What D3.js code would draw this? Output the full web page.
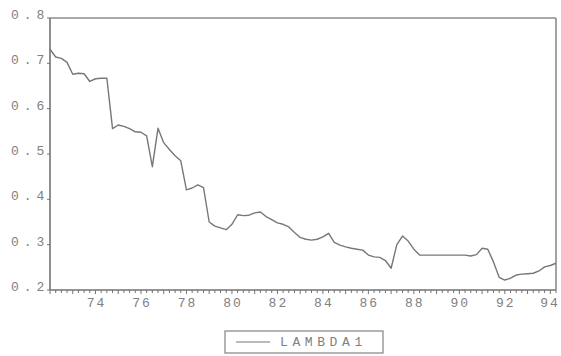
<!DOCTYPE html>
<html>
<head>
<meta charset="utf-8">
<script src="https://cdn.jsdelivr.net/npm/d3@7"></script>
<style>
  body { margin: 0; background: #fff; }
  svg text { font-family: "Liberation Mono", "DejaVu Sans Mono", monospace; fill: #808080; }
</style>
</head>
<body>
<div id="chart"></div>
<script>
// quarterly observations, 1972Q1 .. 1994Q2
const startYear = 1972;
const obsPerYear = 4;
const lambda1 = [
    0.731, 0.714, 0.711, 0.702,   // 1972
    0.676, 0.678, 0.677, 0.660,   // 1973
    0.666, 0.667, 0.667, 0.556,   // 1974
    0.564, 0.561, 0.556, 0.549,   // 1975
    0.548, 0.540, 0.472, 0.557,   // 1976
    0.525, 0.510, 0.496, 0.485,   // 1977
    0.421, 0.425, 0.432, 0.426,   // 1978
    0.350, 0.341, 0.337, 0.333,   // 1979
    0.345, 0.366, 0.364, 0.365,   // 1980
    0.370, 0.372, 0.362, 0.355,   // 1981
    0.348, 0.345, 0.339, 0.327,   // 1982
    0.316, 0.312, 0.310, 0.312,   // 1983
    0.317, 0.325, 0.305, 0.299,   // 1984
    0.295, 0.292, 0.290, 0.288,   // 1985
    0.277, 0.273, 0.272, 0.265,   // 1986
    0.248, 0.300, 0.319, 0.308,   // 1987
    0.290, 0.277, 0.277, 0.277,   // 1988
    0.277, 0.277, 0.277, 0.277,   // 1989
    0.277, 0.277, 0.275, 0.278,   // 1990
    0.292, 0.290, 0.262, 0.228,   // 1991
    0.222, 0.226, 0.233, 0.235,   // 1992
    0.236, 0.237, 0.242, 0.251,   // 1993
    0.254, 0.259                  // 1994
];
const yTicks = [0.2, 0.3, 0.4, 0.5, 0.6, 0.7, 0.8];
const xTickYears = [74, 76, 78, 80, 82, 84, 86, 88, 90, 92, 94];
const seriesName = "LAMBDA1";

const width = 561;
const height = 356;
const margins = { top: 18, left: 50, right: 5, bottom: 66 };

const svg = d3.select("#chart")
    .append("svg")
        .attr("width", width)
        .attr("height", height);

const lastT = startYear + (lambda1.length - 1) / obsPerYear;

const x = d3.scaleLinear()
    .domain([startYear, lastT])
    .range([margins.left, width - margins.right]);

const y = d3.scaleLinear()
    .domain([0.2, 0.8])
    .range([height - margins.bottom, margins.top]);

const frameColor = "#737373";

// frame: top + right lighter, left + bottom axis lines
svg.append("line")
    .attr("x1", x(startYear)).attr("x2", x(lastT))
    .attr("y1", y(0.8)).attr("y2", y(0.8))
    .attr("stroke", "#8c8c8c").attr("stroke-width", 1.6);
svg.append("line")
    .attr("x1", x(lastT)).attr("x2", x(lastT))
    .attr("y1", y(0.8)).attr("y2", y(0.2))
    .attr("stroke", "#8c8c8c").attr("stroke-width", 1.6);
svg.append("line")
    .attr("x1", x(startYear)).attr("x2", x(startYear))
    .attr("y1", y(0.8)).attr("y2", y(0.2))
    .attr("stroke", frameColor).attr("stroke-width", 1.6);
svg.append("line")
    .attr("x1", x(startYear)).attr("x2", x(lastT))
    .attr("y1", y(0.2)).attr("y2", y(0.2))
    .attr("stroke", frameColor).attr("stroke-width", 1.6);

// quarterly minor ticks under the x axis
const quarterTicks = d3.range(lambda1.length).map(i => startYear + i / obsPerYear);
svg.append("g")
    .selectAll("line")
    .data(quarterTicks)
    .join("line")
        .attr("x1", d => x(d)).attr("x2", d => x(d))
        .attr("y1", y(0.2))
        .attr("y2", d => y(0.2) + (Number.isInteger(d) ? 4 : 3))
        .attr("stroke", frameColor)
        .attr("stroke-width", 1);

// x labels (last one kept inside the window)
svg.append("g")
    .selectAll("text")
    .data(xTickYears)
    .join("text")
        .attr("x", d => Math.min(x(1900 + d) + 1, width - 11))
        .attr("y", y(0.2) + 17)
        .attr("text-anchor", "middle")
        .attr("font-size", 13)
        .attr("letter-spacing", 2)
        .text(d => d);

// y ticks + labels
svg.append("g")
    .selectAll("line")
    .data(yTicks)
    .join("line")
        .attr("x1", x(startYear) - 3).attr("x2", x(startYear))
        .attr("y1", d => y(d)).attr("y2", d => y(d))
        .attr("stroke", frameColor);

svg.append("g")
    .selectAll("text")
    .data(yTicks)
    .join("text")
        .attr("x", 11)
        .attr("y", d => y(d) + 1)
        .attr("font-size", 13)
        .attr("letter-spacing", 5)
        .text(d => d.toFixed(1));

// the series
const line = d3.line()
    .x((d, i) => x(startYear + i / obsPerYear))
    .y(d => y(d));

svg.append("path")
    .datum(lambda1)
    .attr("fill", "none")
    .attr("stroke", "#777")
    .attr("stroke-width", 1.4)
    .attr("stroke-linejoin", "round")
    .attr("d", line);

// legend
const legend = svg.append("g").attr("transform", "translate(225, 331)");
legend.append("rect")
    .attr("width", 158).attr("height", 22)
    .attr("fill", "none")
    .attr("stroke", "#8c8c8c")
    .attr("stroke-width", 1.3);
legend.append("line")
    .attr("x1", 11).attr("x2", 45)
    .attr("y1", 11).attr("y2", 11)
    .attr("stroke", "#777").attr("stroke-width", 1.2);
legend.append("text")
    .attr("x", 55)
    .attr("y", 15)
    .attr("font-size", 13)
    .attr("letter-spacing", 4.6)
    .text(seriesName);
</script>
</body>
</html>
